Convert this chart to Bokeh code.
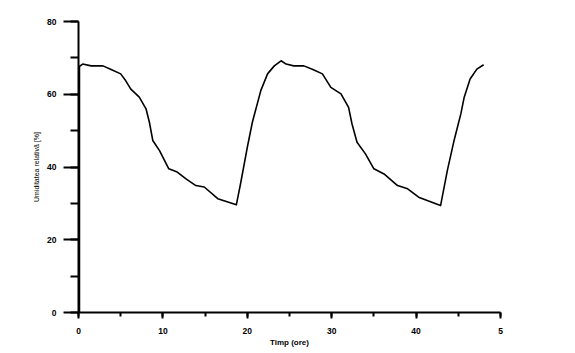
from bokeh.plotting import figure
from bokeh.models import Range1d, SingleIntervalTicker
from bokeh.embed import file_html
from bokeh.resources import INLINE

# Data
hours = [0, 0.5, 1.5, 2.9, 3.8, 5.0, 5.6, 6.2, 7.2, 8.0, 8.4, 8.8, 9.6, 10.7, 11.7,
         12.7, 13.9, 14.9, 16.5, 17.7, 18.7, 19.2, 20.0, 20.6, 21.6, 22.4, 23.2, 24.0,
         24.6, 25.5, 26.7, 27.7, 28.9, 29.9, 31.1, 32.0, 32.4, 33.0, 34.0, 35.0, 36.2,
         37.8, 39.0, 40.3, 42.1, 42.9, 43.7, 44.5, 45.3, 45.7, 46.4, 47.2, 48.0]
humidity = [67.5, 68.3, 67.8, 67.8, 66.9, 65.6, 63.7, 61.4, 59.2, 56.0, 52.3, 47.3, 44.5,
            39.5, 38.6, 36.8, 34.9, 34.5, 31.3, 30.4, 29.6, 35.4, 45.4, 52.3, 61.0, 65.6,
            67.8, 69.2, 68.3, 67.8, 67.8, 66.9, 65.6, 61.9, 60.1, 56.4, 51.9, 46.8, 43.6,
            39.5, 38.1, 34.9, 34.0, 31.7, 30.1, 29.4, 39.0, 47.3, 54.6, 59.2, 64.2, 66.9,
            68.1]
start_hours = [0, 0]
start_humidity = [0, 67.5]

x_label = "Timp (ore)"
y_label = "Umiditatea relativă [%]"
x_tick_overrides = {50: "5"}

p = figure(width=575, height=353, output_backend="svg", toolbar_location=None,
           x_range=Range1d(0, 50), y_range=Range1d(0, 80))
p.min_border_left = 78
p.min_border_right = 75
p.min_border_top = 21
p.min_border_bottom = 41
p.outline_line_color = None
p.xgrid.visible = False
p.ygrid.visible = False
p.background_fill_color = "white"
p.border_fill_color = "white"

p.line(start_hours, start_humidity, line_color="black", line_width=3.5)
p.line(hours, humidity, line_color="black", line_width=1.6, line_join="round")

font = "Liberation Sans"
xa = p.xaxis[0]
xa.ticker = SingleIntervalTicker(interval=10, num_minor_ticks=2)
xa.major_label_overrides = x_tick_overrides
xa.axis_label = x_label
xa.axis_label_text_font = font
xa.axis_label_text_font_size = "8px"
xa.axis_label_text_font_style = "bold"
xa.axis_label_text_color = "black"
xa.axis_label_standoff = 1
xa.major_label_text_font = font
xa.major_label_text_font_size = "8.5px"
xa.major_label_text_font_style = "bold"
xa.major_label_text_color = "black"
xa.major_label_standoff = 9
xa.axis_line_width = 1.8
xa.major_tick_line_width = 2
xa.minor_tick_line_width = 2
xa.major_tick_out = 6
xa.major_tick_in = 0
xa.minor_tick_out = 4
xa.minor_tick_in = 0

ya = p.yaxis[0]
ya.ticker = SingleIntervalTicker(interval=20, num_minor_ticks=2)
ya.axis_label = y_label
ya.axis_label_text_font = font
ya.axis_label_text_font_size = "7px"
ya.axis_label_text_font_style = "normal"
ya.axis_label_text_color = "black"
ya.axis_label_standoff = 4
ya.major_label_text_font = font
ya.major_label_text_font_size = "8.5px"
ya.major_label_text_font_style = "bold"
ya.major_label_text_color = "black"
ya.major_label_standoff = 7
ya.axis_line_width = 2
ya.major_tick_line_width = 2
ya.minor_tick_line_width = 2
ya.major_tick_out = 15
ya.major_tick_in = 0
ya.minor_tick_out = 8
ya.minor_tick_in = 0

open("out.html", "w").write(file_html(p, INLINE))
